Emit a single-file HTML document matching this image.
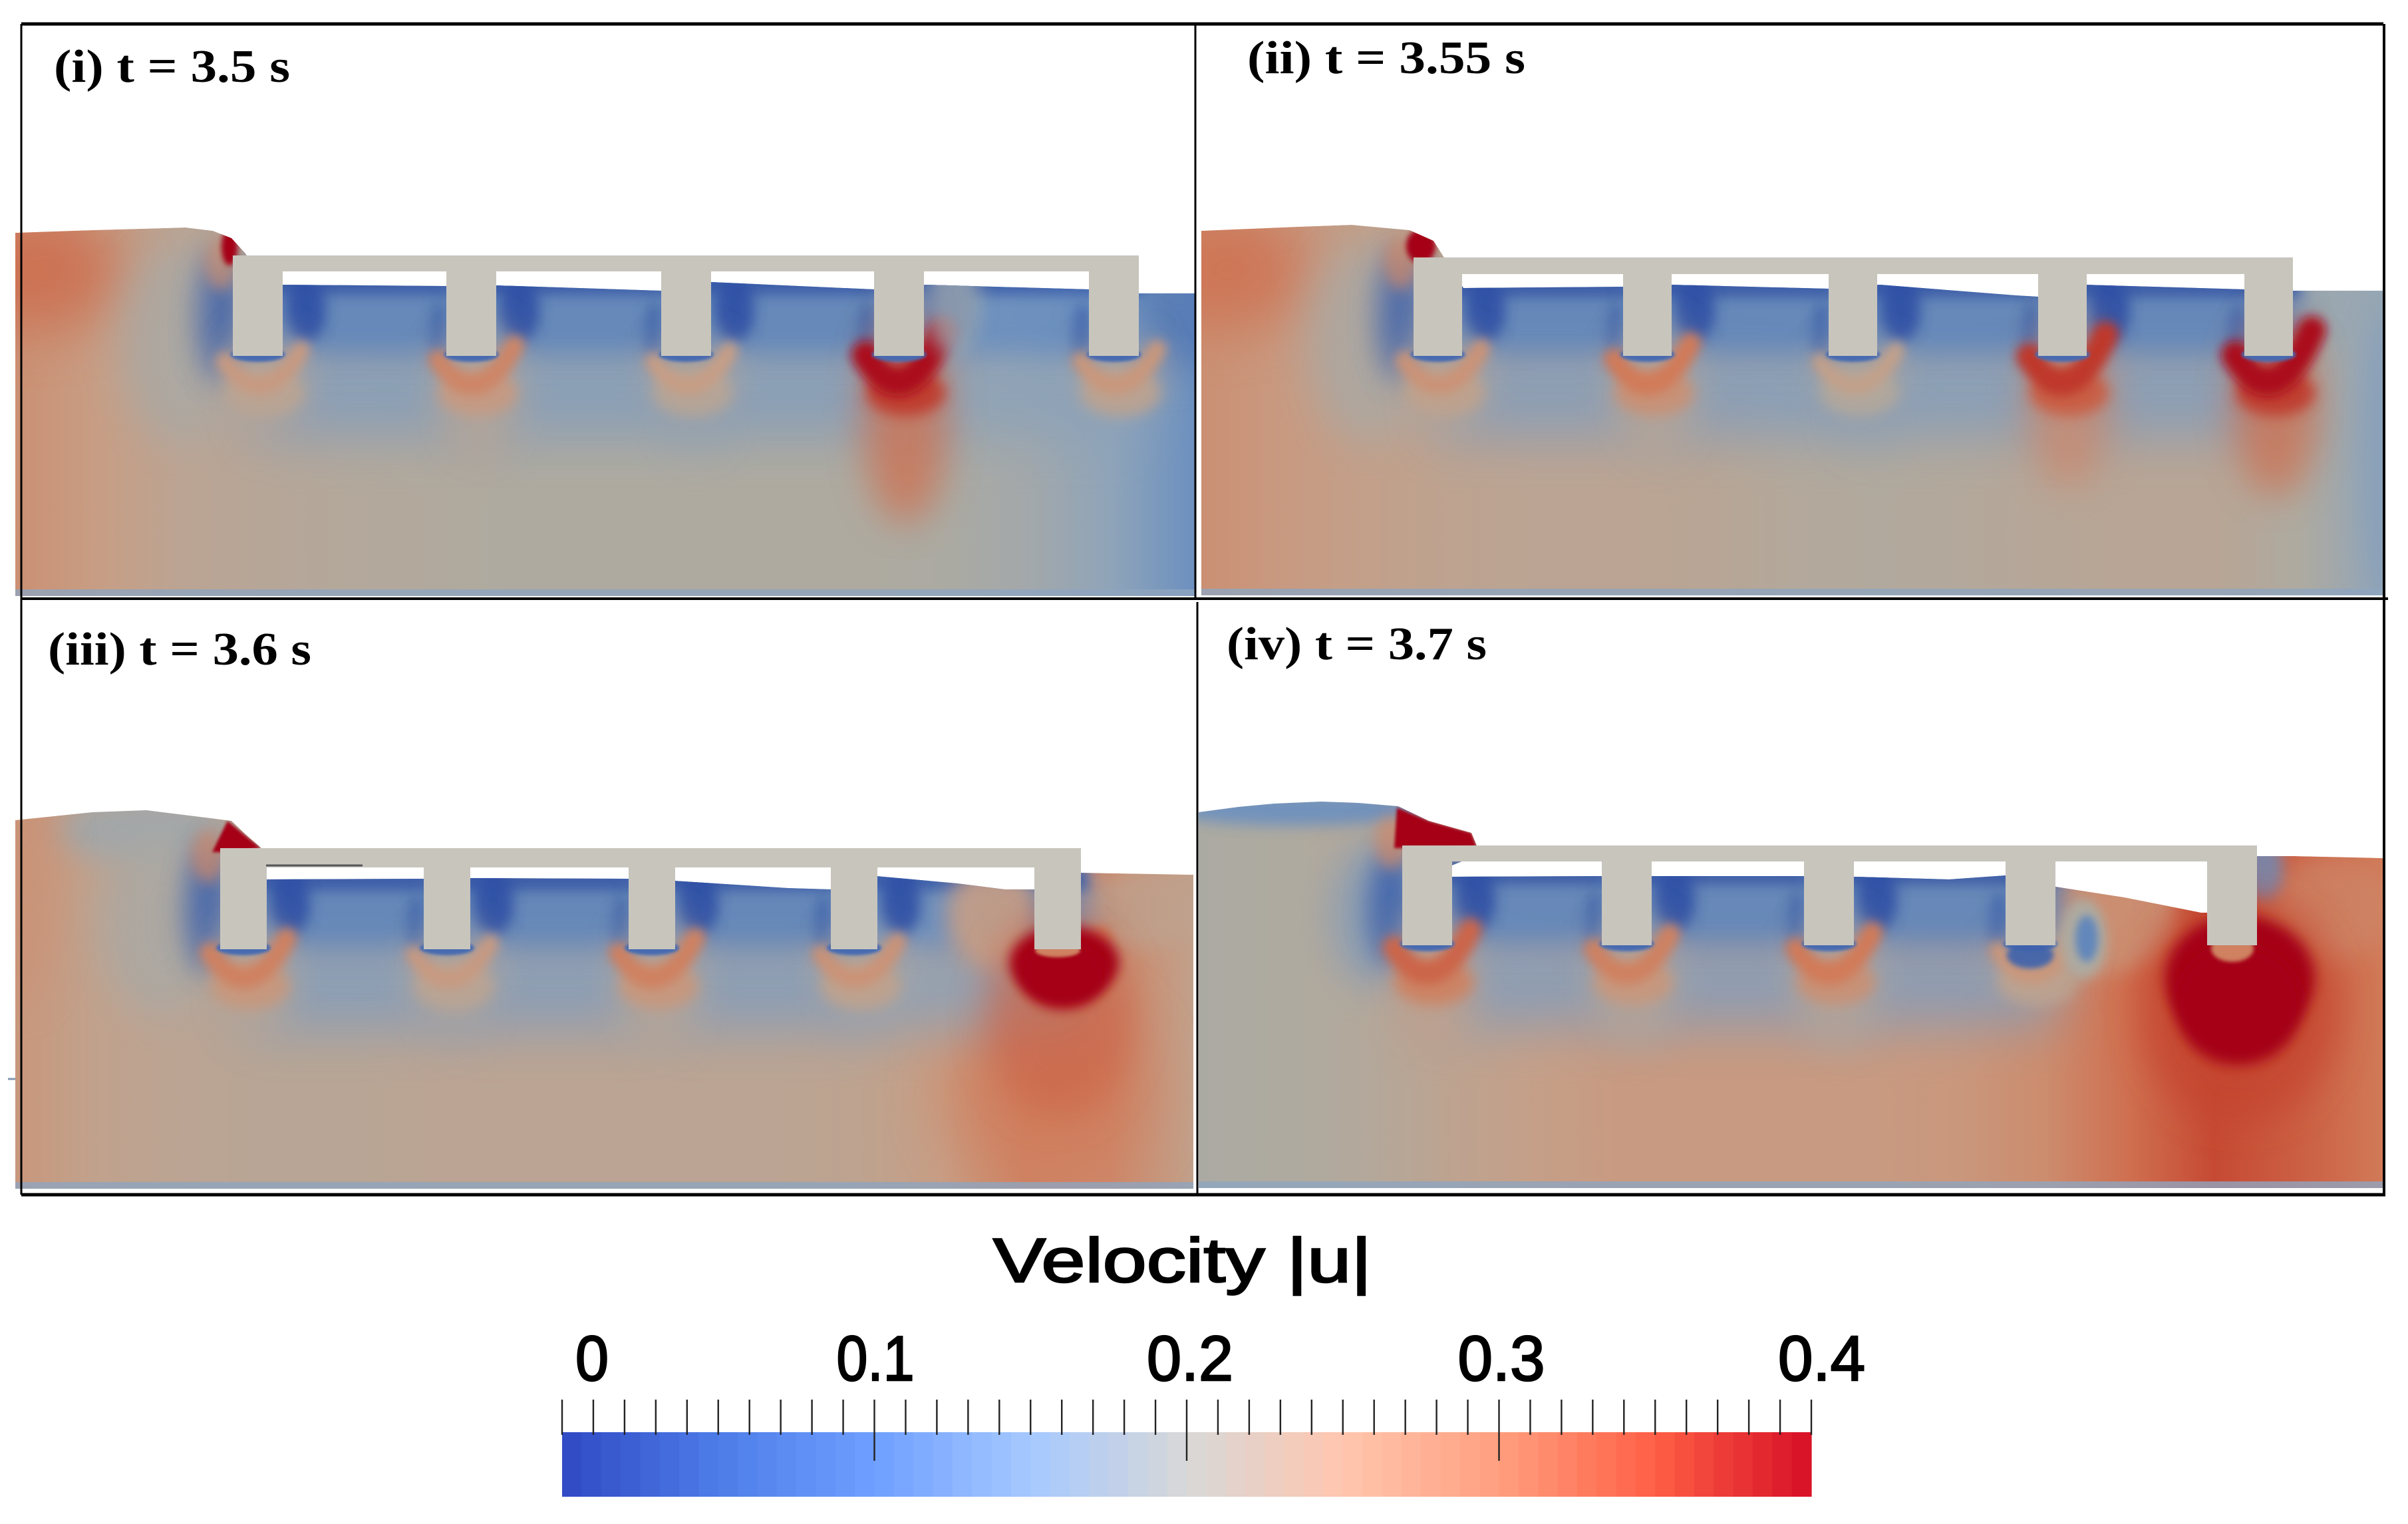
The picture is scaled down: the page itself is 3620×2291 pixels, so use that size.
<!DOCTYPE html>
<html lang="en">
<head>
<meta charset="utf-8">
<title>Velocity field snapshots</title>
<style>
html,body{margin:0;padding:0;background:#fff;}
svg{display:block;}
.panel-label{font-family:"Liberation Serif",serif;font-weight:bold;font-size:70px;fill:#000;}
.bar-text{font-family:"Liberation Sans",sans-serif;fill:#000;stroke:#000;stroke-width:2.5px;}
</style>
</head>
<body>
<svg id="figure" xmlns="http://www.w3.org/2000/svg" width="3620" height="2291" viewBox="0 0 3620 2291">
<defs id="defs"></defs>
<rect x="0" y="0" width="3620" height="2291" fill="#ffffff"/>
<g id="panels"></g>
<g id="frames"></g>
<g id="labels">
<text class="panel-label" x="81" y="123" textLength="355" lengthAdjust="spacingAndGlyphs">(i) t = 3.5 s</text>
<text class="panel-label" x="1875" y="110" textLength="418" lengthAdjust="spacingAndGlyphs">(ii) t = 3.55 s</text>
<text class="panel-label" x="72" y="999" textLength="396" lengthAdjust="spacingAndGlyphs">(iii) t = 3.6 s</text>
<text class="panel-label" x="1844" y="991" textLength="391" lengthAdjust="spacingAndGlyphs">(iv) t = 3.7 s</text>
</g>
<text class="bar-text" x="1493" y="1927" font-size="94" textLength="569" lengthAdjust="spacingAndGlyphs">Velocity |u|</text>
<g id="colorbar"></g>
</svg>
<script>
/* ---------- colour bar data ---------- */
const barTickLabels = ["0","0.1","0.2","0.3","0.4"];
const barTickValues = [0,0.1,0.2,0.3,0.4];
const barMinorCount = 40;
const barBandCount = 64;
const barMax = 0.4;
const barColorStops = [[0,"#3049c4"],[0.125,"#4d7ce8"],[0.25,"#6f9fff"],[0.375,"#a6c9ff"],[0.5,"#d8d8d8"],[0.625,"#ffc6ae"],[0.75,"#ff9f7f"],[0.875,"#ff5f45"],[1,"#d60f27"]];
const fieldColorStops = [[0,"#2743a0"],[0.05,"#3c62ac"],[0.1,"#6c90bf"],[0.15,"#93a6b8"],[0.2,"#aeaaa0"],[0.25,"#c79e85"],[0.3,"#d17a58"],[0.35,"#c5452f"],[0.4,"#a50018"]];

/* ---------- panel (i) t = 3.5 ---------- */
const surfaceI = [[0,54.6],[11.7,55],[25.6,55.4],[29.7,54.9],[32.5,53.8],[34.6,51.5],[37.7,46.8],[40.1,46.8],[64.8,46.6],[72.2,46.7],[97.1,45.9],[104.6,47.2],[129.1,46.1],[136.8,46.8],[161.4,46.1],[168.9,45.5],[177.4,45.5]];
const pilesI = [32.7,64.8,97.1,129.1,161.4];
const baseVelI = [.27,.25,.225,.215,.21,.205,.2,.2,.2,.2,.2,.195,.18,.145,.1];
const wakeVelI = [.255,.285,.25,.39,.26];
const wakeDepthI = [8,12,6,18,5];
const bayVelI = [.09,.09,.09,.1];
const spotsUnderI = [[4,49,12,9,.315,42,.8],[25,38,9,15,.19,32,.8],[31,42,3.5,10,.05,22,.85],[172,42,18,8,.07,30,.7],[31,50,2.5,4,.27,10,.7]];
const spotsOverI = [[141,44,4,8,.17,14,.8],[32.2,52.5,1.2,2.8,.4,4,1]];

/* ---------- panel (ii) t = 3.55 ---------- */
const surfaceII = [[0,54.8],[14.4,55.4],[22.6,55.7],[31.3,54.9],[34.9,53.3],[36.3,51.1],[39.4,46.2],[63.4,46.4],[70.7,46.7],[94.3,46.1],[102,46.7],[122.4,45.1],[125.8,44.9],[132.8,46.7],[156.8,46],[163.9,45.8],[177.7,45.8]];
const pilesII = [31.9,63.4,94.3,125.8,156.8];
const baseVelII = [.27,.255,.24,.23,.225,.225,.22,.21,.205,.21,.215,.22,.22,.2,.15];
const wakeVelII = [.265,.3,.24,.36,.39];
const wakeDepthII = [8,12,5,14,15];
const bayVelII = [.09,.09,.09,.09];
const spotsUnderII = [[4,49,12,9,.31,42,.8],[25,38,9,15,.19,32,.8],[30,42,3.5,10,.05,22,.85],[170,44,8,6,.16,20,.7],[178,20,4,22,.13,22,.6],[30,50,2.5,4,.28,10,.7]];
const spotsOverII = [[33,52.5,2.2,2.6,.4,4,1]];

/* ---------- panel (iii) t = 3.6 ---------- */
const surfaceIII = [[0,55.4],[11.6,56.6],[19.7,56.9],[30.2,55.6],[32.5,55.3],[34.7,53.2],[36.9,51.3],[37.7,46.5],[61.4,46.6],[68.3,46.7],[92.2,46.6],[99,46.3],[116.1,45.2],[122.6,45],[129.4,47],[141.6,45.9],[148.7,45],[153.2,45],[160.2,47.5],[165.7,47.4],[177.1,47.2]];
const pilesIII = [30.8,61.4,92.2,122.6,153.2];
const baseVelIII = [.26,.235,.225,.22,.22,.225,.225,.225,.225,.225,.23,.25,.285,.28,.24];
const wakeVelIII = [.29,.255,.29,.265,.3];
const wakeDepthIII = [10,8,12,6,4];
const bayVelIII = [.09,.09,.09,.1];
const spotsUnderIII = [[19,54,13,5,.17,22,.85],[1,48,5,20,.27,30,.6],[22,40,9,14,.19,30,.8],[29,42,3.5,10,.05,20,.85],[155,15,15,14,.3,45,.6],[170,42,10,6,.23,15,.7],[29,50,2.5,4,.28,10,.7]];
const spotsOverIII = [[147,41,7,8,.25,16,.9],[157,26,11,15,.32,28,.7],[157.7,34,8.2,5.5,.4,9,1],[157.5,32,6.5,5,.4,9,1],[156.7,35.8,3.4,1,.29,2,1]];

/* ---------- panel (iv) t = 3.7 ---------- */
const surfaceIV = [[0,56.5],[6,57.3],[11.4,57.8],[18.4,58.1],[24,57.9],[30,57.4],[34.6,55.2],[41,53.4],[41.8,51.5],[41.8,50],[36.8,48],[36.8,46.8],[37.9,46.8],[60.6,46.9],[68.3,46.9],[91,46.9],[98.6,46.8],[112.8,46.4],[121.3,47],[128.8,45.3],[139.1,43.7],[150.7,41.4],[152.8,41.4],[159,49.9],[164.8,49.9],[178.1,49.6]];
const pilesIV = [30.6,60.6,91,121.3,151.6];
const baseVelIV = [.195,.2,.21,.23,.245,.255,.255,.255,.255,.26,.275,.31,.345,.325,.3];
const wakeVelIV = [.32,.29,.3,.26,.3];
const wakeDepthIV = [12,11,11,5,4];
const bayVelIV = [.09,.09,.09,null];
const spotsUnderIV = [[15,57,20,2.5,.1,10,.9],[27,41,7,11,.12,28,.7],[29,42,3.5,9,.05,18,.85],[135,41,12,9,.27,14,.95],[170,42,10,8,.28,20,.7],[160,48,3,5,.1,10,.8],[29,52,2.5,4,.28,10,.7]];
const spotsOverIV = [[156.5,27,15,17,.35,28,.75],[156.5,31.5,11.2,9.5,.4,10,1],[156.3,27.5,9.5,9,.4,10,1],[133,37.5,3.5,6,.2,8,1],[133.5,37.5,1.7,3.5,.09,6,1],[125,35,3.5,2,.05,4,.9],[155.4,36,3.2,2,.29,3,1]];

/* wave-front jets [x,h] */
const crestIII = [[31.9,55.3],[36.9,51.2],[33,50.6],[29.6,50.6]];
const crestIV = [[29.8,57.2],[34.6,55.2],[41,53.4],[41.8,51.3],[29.4,51.1]];

const panelsData = [
  {id:"i",x0:23,yb:896,right:1797,surface:surfaceI,piles:pilesI,pw:7.5,deckTop:51.2,deckUnder:48.8,pileBottom:36.1,base:baseVelI,wake:wakeVelI,depth:wakeDepthI,bays:bayVelI,under:spotsUnderI,over:spotsOverI,crest:null},
  {id:"ii",x0:1806,yb:895,right:3583,surface:surfaceII,piles:pilesII,pw:7.3,deckTop:50.8,deckUnder:48.3,pileBottom:36,base:baseVelII,wake:wakeVelII,depth:wakeDepthII,bays:bayVelII,under:spotsUnderII,over:spotsOverII,crest:null},
  {id:"iii",x0:23,yb:1787,right:1794,surface:surfaceIII,piles:pilesIII,pw:7,deckTop:51.2,deckUnder:48.3,pileBottom:36,base:baseVelIII,wake:wakeVelIII,depth:wakeDepthIII,bays:bayVelIII,under:spotsUnderIII,over:spotsOverIII,crest:crestIII},
  {id:"iv",x0:1802,yb:1786,right:3583,surface:surfaceIV,piles:pilesIV,pw:7.5,deckTop:51.5,deckUnder:49.1,pileBottom:36.5,base:baseVelIV,wake:wakeVelIV,depth:wakeDepthIV,bays:bayVelIV,under:spotsUnderIV,over:spotsOverIV,crest:crestIV}
];

const NS = "http://www.w3.org/2000/svg";
const defs = document.getElementById("defs");
const UNIT = 10;
const blurIds = {};

function make(tag, attrs, parent){
  const el = document.createElementNS(NS, tag);
  for (const k in attrs) el.setAttribute(k, attrs[k]);
  if (parent) parent.appendChild(el);
  return el;
}
function hex(c){ return [1,3,5].map(i=>parseInt(c.substr(i,2),16)); }
function ramp(stops, t){
  t = Math.max(0, Math.min(1, t));
  for (let i=1;i<stops.length;i++){
    if (t<=stops[i][0]){
      const a=stops[i-1], b=stops[i], f=(t-a[0])/(b[0]-a[0]);
      const ca=hex(a[1]), cb=hex(b[1]);
      return "rgb("+ca.map((v,j)=>Math.round(v+(cb[j]-v)*f)).join(",")+")";
    }
  }
  return stops[stops.length-1][1];
}
function fieldColor(v){ return ramp(fieldColorStops, v); }
function blurFilter(n){
  if (!blurIds[n]){
    const f = make("filter",{id:"blur"+n,x:"-150%",y:"-150%",width:"400%",height:"400%"},defs);
    make("feGaussianBlur",{stdDeviation:n},f);
    blurIds[n]="url(#blur"+n+")";
  }
  return blurIds[n];
}

function drawPanel(p){
  const sx = u => p.x0 + u*UNIT;
  const sy = h => p.yb - h*UNIT;
  const root = document.getElementById("panels");
  const g = make("g",{},root);
  
  

  const pts = p.surface.map(d=>sx(d[0])+","+sy(d[1]));
  const lastX = sx(p.surface[p.surface.length-1][0]);
  const poly = pts.concat([lastX+","+p.yb, p.x0+","+p.yb]).join(" ");
  const clip = make("clipPath",{id:"clip-"+p.id},defs);
  make("polygon",{points:poly},clip);

  const grad = make("linearGradient",{id:"base-"+p.id,x1:0,y1:0,x2:1,y2:0},defs);
  p.base.forEach((v,i)=>{
    make("stop",{offset:(i/(p.base.length-1)),"stop-color":fieldColor(v)},grad);
  });

  const water = make("g",{"clip-path":"url(#clip-"+p.id+")"},g);
  
  

  const baseRect = make("polygon",{points:poly,fill:"url(#base-"+p.id+")"},water);
  
  

  function spot(s){
    const e = make("ellipse",{cx:sx(s[0]),cy:sy(s[1]),rx:s[2]*UNIT,ry:s[3]*UNIT,fill:fieldColor(s[4]),opacity:s[6],filter:blurFilter(s[5])},water);
    
    
  }
  p.under.forEach(spot);

  /* blue flow between piles: wide fade, main band, surface band */
  p.bays.forEach((v,i)=>{
    if (v===null) return;
    const l = p.piles[i], r = p.piles[i+1]+p.pw;
    const fade = make("rect",{x:sx(l+3),y:sy(p.pileBottom+2),width:(r-l-3)*UNIT,height:14*UNIT,fill:fieldColor(v+.04),opacity:.85,filter:blurFilter(40)},water);
    
    
    const band = make("rect",{x:sx(l+2),y:sy(p.deckUnder),width:(r-l-1)*UNIT,height:(p.deckUnder-p.pileBottom)*UNIT,fill:fieldColor(v),opacity:.95,filter:blurFilter(20)},water);
    
    
    const top = make("rect",{x:sx(l+2),y:sy(p.deckUnder),width:(r-l-1)*UNIT,height:3.5*UNIT,fill:fieldColor(v-.06),opacity:.85,filter:blurFilter(9)},water);
    
    
    spot([p.piles[i]+p.pw+3.5,p.pileBottom+7,3,5,.02,10,.9]);
    spot([p.piles[i+1]-1,p.pileBottom+3,1.6,5,.05,9,.7]);
  });

  /* pile wakes: long tail, glow, crescent, blue cap */
  p.piles.forEach((x,i)=>{
    const c = x+p.pw/2, v = p.wake[i], d = p.depth[i], pb = p.pileBottom;
    spot([c+1,pb-d*0.5,6.5,d*0.9,Math.max(.22,v-.08),28,.75]);
    spot([c+1,pb-5.5,6,3.5,v-.03,10,.9]);
    const lift = Math.max(0,(v-.25)*22);
    const arc = make("path",{d:"M"+sx(c-5)+" "+sy(pb+lift*.3-.8)+" Q"+sx(c+.8)+" "+sy(pb-9-lift*.15)+" "+sx(c+6.5)+" "+sy(pb+lift+.8),fill:"none",stroke:fieldColor(v),"stroke-width":(2.6+Math.max(0,v-.25)*12)*UNIT,"stroke-linecap":"round",filter:blurFilter(8)},water);
    
    
    spot([c,pb+0.2,4.1,1.1,.06,2,1]);
  });

  p.over.forEach(spot);

  if (p.crest){
    const jet = make("polygon",{points:p.crest.map(d=>sx(d[0])+","+sy(d[1])).join(" "),fill:fieldColor(.4),filter:blurFilter(2)},water);
    
    
  }

  const strip = make("rect",{x:p.x0,y:p.yb-10,width:lastX-p.x0,height:10,fill:"#8ea5bf",opacity:.8},water);
  
  

  /* structure */
  const deckX = sx(p.piles[0]);
  const deckEnd = sx(p.piles[p.piles.length-1]+p.pw);
  const deck = make("rect",{x:deckX,y:sy(p.deckTop),width:deckEnd-deckX,height:(p.deckTop-p.deckUnder)*UNIT,fill:"#c8c5bd"},g);
  
  
  p.piles.forEach(x=>{
    const r = make("rect",{x:sx(x),y:sy(p.deckUnder)-1,width:p.pw*UNIT,height:(p.deckUnder-p.pileBottom)*UNIT+1,fill:"#c8c5bd"},g);
    
    
  });
}
panelsData.forEach(drawPanel);

/* frame lines */
const frameLines = [
  [32,36,3583,36,5],[32,36,32,1796,3],[1797,36,1797,900,3],[32,900,3590,900,4],
  [1800,905,1800,1795,3],[32,1796,3586,1796,5],[3584,36,3584,1796,4]
];
const frames = document.getElementById("frames");
frameLines.forEach(f=>{
  const l = make("line",{x1:f[0],y1:f[1],x2:f[2],y2:f[3],stroke:"#000","stroke-width":f[4]},frames);
  
  
});
const stray = make("line",{x1:400,y1:1301,x2:545,y2:1301,stroke:"#55565a","stroke-width":3},frames);


const tickMark = make("line",{x1:12,y1:1622,x2:23,y2:1622,stroke:"#8096b0","stroke-width":3},frames);



/* colour bar */
const bar = document.getElementById("colorbar");
const barX = v => 845 + v/barMax*1878;
function bandColor(v){ return ramp(barColorStops, v/barMax); }
for (let i=0;i<barBandCount;i++){
  const v0 = i/barBandCount*barMax, v1=(i+1)/barBandCount*barMax;
  const r = make("rect",{x:barX(v0),y:2153,width:barX(v1)-barX(v0)+.6,height:97,fill:bandColor((v0+v1)/2)},bar);
  
  
}
for (let i=0;i<=barMinorCount;i++){
  const v = i/barMinorCount*barMax;
  const major = (i%10===0 && i>0 && i<barMinorCount);
  const t = make("line",{x1:barX(v),y1:2104,x2:barX(v),y2:major?2196:2157,stroke:"#222","stroke-width":2.4},bar);
  
  
}
const labelOffset = [20,-57,-60,-62,-50];
const labelWidth = [50,117,130,131,131];
barTickValues.forEach((v,i)=>{
  const t = make("text",{x:barX(v)+labelOffset[i],y:2075,"font-size":96,"class":"bar-text",textLength:labelWidth[i],lengthAdjust:"spacingAndGlyphs"},bar);
  
  
  t.textContent = barTickLabels[i];
});
</script>
</body>
</html>
